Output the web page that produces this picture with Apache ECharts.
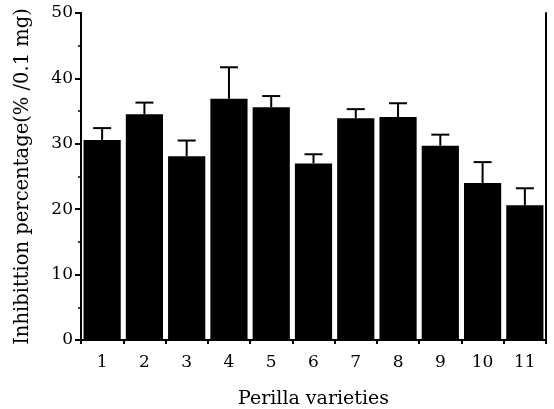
<!DOCTYPE html>
<html>
<head>
<meta charset="utf-8">
<script src="https://cdn.jsdelivr.net/npm/echarts@6/dist/echarts.min.js"></script>
<style>
html,body{margin:0;padding:0;background:#fff;}
#chart{width:554px;height:409px;}
</style>
</head>
<body>
<div id="chart"></div>
<script>
var varieties = ['1','2','3','4','5','6','7','8','9','10','11'];
var inhibition = [30.6, 34.5, 28.1, 36.9, 35.6, 27.0, 33.9, 34.1, 29.7, 24.0, 20.6];
var errorTop = [32.4, 36.3, 30.5, 41.7, 37.3, 28.4, 35.3, 36.2, 31.4, 27.2, 23.2];
var yTicks = [0, 10, 20, 30, 40, 50];

var serif = 'DejaVu Serif';
var myChart = echarts.init(document.getElementById('chart'));

var errData = [];
for (var i = 0; i < varieties.length; i++) {
	errData.push([i, inhibition[i], errorTop[i]]);
}

var option = {
	animation: false,
	backgroundColor: '#fff',
	grid: {
		left: 81,
		right: 8,
		top: 13,
		bottom: 69,
		outerBoundsMode: 'none'
	},
	xAxis: [
		{
			type: 'category',
			data: varieties,
			boundaryGap: true,
			axisLine: {lineStyle: {color: '#000', width: 2}},
			axisTick: {show: true, alignWithLabel: false, length: 4, lineStyle: {color: '#000', width: 2}},
			axisLabel: {color: '#000', fontFamily: serif, fontSize: 17, margin: 14},
			name: 'Perilla varieties',
			nameLocation: 'middle',
			nameGap: 50,
			nameTextStyle: {color: '#000', fontFamily: serif, fontSize: 19}
		},
		{
			type: 'category',
			position: 'top',
			data: varieties,
			axisLine: {show: true, lineStyle: {color: '#000', width: 2}},
			axisTick: {show: false},
			axisLabel: {show: false}
		}
	],
	yAxis: [
		{
			type: 'value',
			min: yTicks[0],
			max: yTicks[yTicks.length - 1],
			interval: 10,
			axisLine: {show: true, lineStyle: {color: '#000', width: 2}},
			axisTick: {show: true, length: 6, lineStyle: {color: '#000', width: 2}},
			minorTick: {show: true, splitNumber: 2, length: 3, lineStyle: {color: '#000', width: 1.5}},
			splitLine: {show: false},
			axisLabel: {color: '#000', fontFamily: serif, fontSize: 17, margin: 8},
			name: 'Inhibittion percentage(% /0.1 mg)',
			nameLocation: 'middle',
			nameRotate: 90,
			nameGap: 48,
			nameTextStyle: {color: '#000', fontFamily: serif, fontSize: 19.5}
		},
		{
			type: 'value',
			position: 'right',
			min: 0,
			max: 50,
			interval: 10,
			axisLine: {show: true, lineStyle: {color: '#000', width: 2}},
			axisTick: {show: false},
			axisLabel: {show: false},
			splitLine: {show: false}
		}
	],
	series: [
		{
			name: 'Inhibition',
			type: 'bar',
			data: inhibition,
			barCategoryGap: '12%',
			itemStyle: {color: '#000'}
		},
		{
			name: 'Error',
			type: 'custom',
			data: errData,
			z: 3,
			renderItem: function (params, api) {
				var x = api.value(0);
				var base = api.coord([x, api.value(1)]);
				var top = api.coord([x, api.value(2)]);
				var half = 9;
				var style = {stroke: '#000', lineWidth: 2};
				return {
					type: 'group',
					children: [
						{type: 'line', shape: {x1: base[0], y1: base[1], x2: top[0], y2: top[1]}, style: style},
						{type: 'line', shape: {x1: top[0] - half, y1: top[1], x2: top[0] + half, y2: top[1]}, style: style}
					]
				};
			}
		}
	]
};
myChart.setOption(option);
</script>
</body>
</html>
